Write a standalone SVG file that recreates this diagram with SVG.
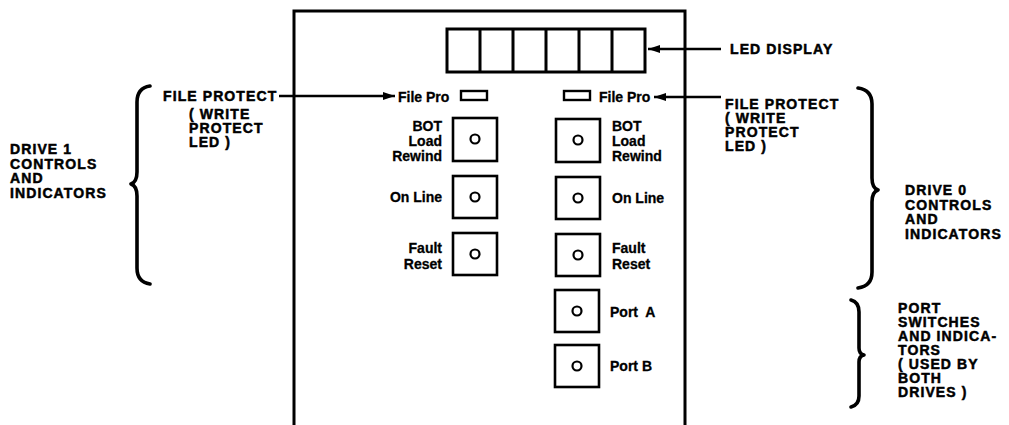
<svg xmlns="http://www.w3.org/2000/svg" width="1009" height="425" viewBox="0 0 1009 425">
<defs>
<marker id="ah" viewBox="0 0 12 8" refX="12" refY="4" markerWidth="12" markerHeight="8" markerUnits="userSpaceOnUse" orient="auto">
<path d="M0,0 L12,4 L0,8 Z" fill="#000"/>
</marker>
<style>
.ln{fill:none;stroke:#000;stroke-width:3}
.box{fill:#fff;stroke:#000;stroke-width:2.6}
.led{fill:#fff;stroke:#000;stroke-width:2.4}
.dot{fill:#fff;stroke:#000;stroke-width:2.2}
.arr{fill:none;stroke:#000;stroke-width:2.4;marker-end:url(#ah)}
.br{fill:none;stroke:#000;stroke-width:3.6;stroke-linecap:round;stroke-linejoin:round}
.lb{font-family:"Liberation Sans",Arial,sans-serif;font-weight:bold;font-size:14px;fill:#000;stroke:#000;stroke-width:0.3}
.big{font-family:"Liberation Sans",Arial,sans-serif;font-weight:bold;font-size:14px;fill:#000;letter-spacing:1.1px;stroke:#000;stroke-width:0.5}
</style>
</defs>
<rect width="1009" height="425" fill="#fff"/>

<g id="panel">
<path class="ln" d="M294,425 V11 H685 V425"/>
</g>

<g id="led-display">
<rect class="ln" x="447" y="29" width="198" height="43"/>
<path class="ln" d="M480,29 V72 M513,29 V72 M546,29 V72 M579,29 V72 M612,29 V72"/>
</g>

<g id="file-pro-1">
<text class="lb" x="398" y="102">File Pro</text>
<rect class="led" x="461" y="91" width="26" height="9"/>
</g>
<g id="file-pro-0">
<rect class="led" x="564" y="91" width="26" height="9"/>
<text class="lb" x="599" y="102">File Pro</text>
</g>

<g id="bot-1">
<text class="lb" text-anchor="end" x="442" y="131">BOT</text>
<text class="lb" text-anchor="end" x="442" y="146">Load</text>
<text class="lb" text-anchor="end" x="442" y="161">Rewind</text>
<rect class="box" x="453" y="118" width="44" height="43"/>
<circle class="dot" cx="475" cy="139" r="4.5"/>
</g>
<g id="online-1">
<text class="lb" text-anchor="end" x="442" y="202">On Line</text>
<rect class="box" x="453" y="176" width="44" height="42"/>
<circle class="dot" cx="475" cy="197" r="4.5"/>
</g>
<g id="fault-1">
<text class="lb" text-anchor="end" x="442" y="253">Fault</text>
<text class="lb" text-anchor="end" x="442" y="269">Reset</text>
<rect class="box" x="453" y="233" width="44" height="42"/>
<circle class="dot" cx="475" cy="254" r="4.5"/>
</g>

<g id="bot-0">
<rect class="box" x="556" y="119" width="44" height="43"/>
<circle class="dot" cx="578" cy="140" r="4.5"/>
<text class="lb" x="612" y="131">BOT</text>
<text class="lb" x="612" y="146">Load</text>
<text class="lb" x="612" y="161">Rewind</text>
</g>
<g id="online-0">
<rect class="box" x="556" y="177" width="44" height="42"/>
<circle class="dot" cx="578" cy="198" r="4.5"/>
<text class="lb" x="612" y="203">On Line</text>
</g>
<g id="fault-0">
<rect class="box" x="556" y="234" width="44" height="42"/>
<circle class="dot" cx="578" cy="255" r="4.5"/>
<text class="lb" x="612" y="253">Fault</text>
<text class="lb" x="612" y="269">Reset</text>
</g>
<g id="port-a">
<rect class="box" x="555" y="290" width="44" height="42"/>
<circle class="dot" cx="577" cy="311" r="4.5"/>
<text class="lb" x="610" y="317" xml:space="preserve">Port  A</text>
</g>
<g id="port-b">
<rect class="box" x="555" y="345" width="44" height="42"/>
<circle class="dot" cx="577" cy="366" r="4.5"/>
<text class="lb" x="610" y="371">Port B</text>
</g>

<g id="label-led-display">
<text class="big" x="730" y="54">LED DISPLAY</text>
</g>
<g id="label-file-protect-1">
<text class="big" x="163" y="101">FILE PROTECT</text>
<text class="big" x="189" y="119">( WRITE</text>
<text class="big" x="189" y="133">PROTECT</text>
<text class="big" x="189" y="147">LED )</text>
</g>
<g id="label-file-protect-0">
<text class="big" x="725" y="109">FILE PROTECT</text>
<text class="big" x="725" y="123">( WRITE</text>
<text class="big" x="725" y="137">PROTECT</text>
<text class="big" x="725" y="151">LED )</text>
</g>
<g id="label-drive-1">
<path class="br" d="M150,86 Q137,88 137,102 L137,172 Q137,182 131,184 Q137,186 137,196 L137,268 Q137,282 150,284"/>
<text class="big" x="10" y="154">DRIVE 1</text>
<text class="big" x="10" y="169">CONTROLS</text>
<text class="big" x="10" y="183">AND</text>
<text class="big" x="10" y="198">INDICATORS</text>
</g>
<g id="label-drive-0">
<path class="br" d="M858,88 Q872,90 872,104 L872,178 Q872,188 878,190 Q872,192 872,202 L872,272 Q872,286 858,288"/>
<text class="big" x="905" y="195">DRIVE 0</text>
<text class="big" x="905" y="210">CONTROLS</text>
<text class="big" x="905" y="224">AND</text>
<text class="big" x="905" y="239">INDICATORS</text>
</g>
<g id="label-port">
<path class="br" d="M851,300 Q859,302 859,312 L859,348 Q859,354 864,355 Q859,356 859,362 L859,396 Q859,405 851,407"/>
<text class="big" x="898" y="313">PORT</text>
<text class="big" x="898" y="327">SWITCHES</text>
<text class="big" x="898" y="341">AND INDICA-</text>
<text class="big" x="898" y="355">TORS</text>
<text class="big" x="898" y="369">( USED BY</text>
<text class="big" x="898" y="383">BOTH</text>
<text class="big" x="898" y="397">DRIVES )</text>
</g>

<g id="connectors">
<line class="arr" x1="721" y1="49" x2="648" y2="49"/>
<line class="arr" x1="279" y1="96" x2="395" y2="96"/>
<line class="arr" x1="721" y1="97" x2="654" y2="97"/>
</g>
</svg>
